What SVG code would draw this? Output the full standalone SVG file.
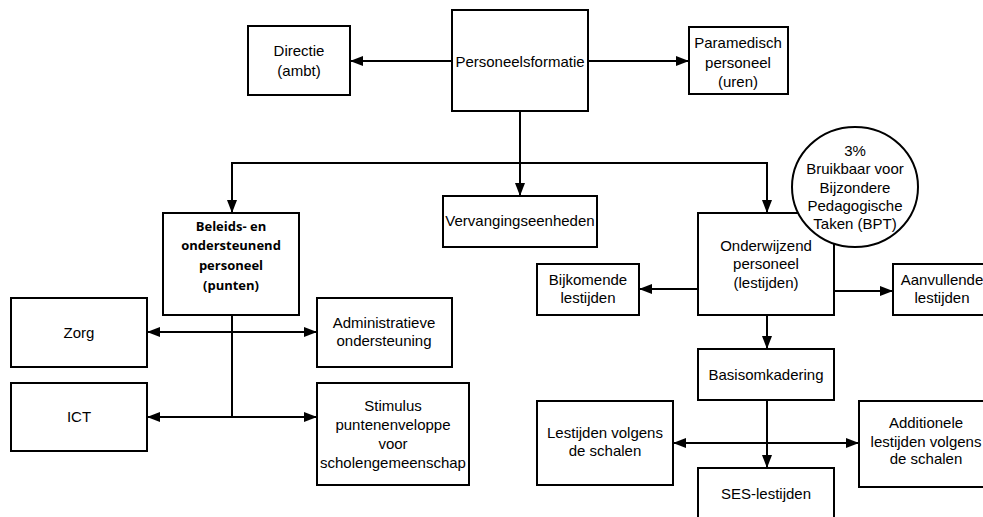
<svg xmlns="http://www.w3.org/2000/svg" width="983" height="517" viewBox="0 0 983 517">
<defs>
<marker id="arr" markerUnits="userSpaceOnUse" markerWidth="14" markerHeight="12" refX="13" refY="6" orient="auto-start-reverse">
<path d="M0,1 L13,6 L0,11 z" fill="#000"/>
</marker>
<style>
.box{fill:#fff;stroke:#000;stroke-width:2}
.t{font-family:"Liberation Sans",Arial,sans-serif;font-size:15px;fill:#000;text-anchor:middle;dominant-baseline:central}
.b{font-family:"Open Sans","Liberation Sans",sans-serif;font-size:13px;font-weight:bold;fill:#000;text-anchor:middle;dominant-baseline:central}
.c{fill:none;stroke:#000;stroke-width:2}
</style>
</defs>
<rect width="983" height="517" fill="#fff"/>
<g id="connectors">
<path class="c" d="M452,61 H350" marker-end="url(#arr)"/>
<path class="c" d="M588,61 H689" marker-end="url(#arr)"/>
<path class="c" d="M520,111 V163 H232 V213" marker-end="url(#arr)"/>
<path class="c" d="M520,163 V196" marker-end="url(#arr)"/>
<path class="c" d="M520,163 H767 V213" marker-end="url(#arr)"/>
<path class="c" d="M147,332 H317" marker-start="url(#arr)" marker-end="url(#arr)"/>
<path class="c" d="M232,315 V417"/>
<path class="c" d="M232,417 H147" marker-end="url(#arr)"/>
<path class="c" d="M232,417 H317" marker-end="url(#arr)"/>
<path class="c" d="M698,289 H639" marker-end="url(#arr)"/>
<path class="c" d="M834,291 H893" marker-end="url(#arr)"/>
<path class="c" d="M767,315 V349" marker-end="url(#arr)"/>
<path class="c" d="M673,443 H859" marker-start="url(#arr)" marker-end="url(#arr)"/>
<path class="c" d="M767,400 V468" marker-end="url(#arr)"/>
</g>
<g id="personeelsformatie"><rect class="box" x="452" y="10" width="136" height="101"/><text class="t" x="520" y="61">Personeelsformatie</text></g>
<g id="directie"><rect class="box" x="248" y="26" width="102" height="69"/><text class="t" x="299" y="50">Directie</text><text class="t" x="299" y="70">(ambt)</text></g>
<g id="paramedisch"><rect class="box" x="689" y="27" width="99" height="67"/><text class="t" x="738" y="42">Paramedisch</text><text class="t" x="738" y="62">personeel</text><text class="t" x="738" y="81">(uren)</text></g>
<g id="beleids"><rect class="box" x="163" y="213" width="136" height="102"/><text class="b" x="231" y="226">Beleids- en</text><text class="b" x="231" y="245">ondersteunend</text><text class="b" x="231" y="265">personeel</text><text class="b" x="231" y="285">(punten)</text></g>
<g id="vervanging"><rect class="box" x="443" y="196" width="154" height="51"/><text class="t" x="520" y="220">Vervangingseenheden</text></g>
<g id="onderwijzend"><rect class="box" x="698" y="213" width="136" height="102"/><text class="t" x="766" y="245">Onderwijzend</text><text class="t" x="766" y="263">personeel</text><text class="t" x="766" y="282">(lestijden)</text></g>
<g id="bpt"><ellipse class="box" cx="855" cy="187" rx="63" ry="60"/><text class="t" x="855" y="150">3%</text><text class="t" x="855" y="168">Bruikbaar voor</text><text class="t" x="855" y="187">Bijzondere</text><text class="t" x="855" y="205">Pedagogische</text><text class="t" x="855" y="223">Taken (BPT)</text></g>
<g id="zorg"><rect class="box" x="11" y="298" width="136" height="69"/><text class="t" x="79" y="332">Zorg</text></g>
<g id="administratieve"><rect class="box" x="317" y="298" width="135" height="69"/><text class="t" x="384" y="322">Administratieve</text><text class="t" x="384" y="340">ondersteuning</text></g>
<g id="ict"><rect class="box" x="11" y="383" width="136" height="68"/><text class="t" x="79" y="416">ICT</text></g>
<g id="stimulus"><rect class="box" x="317" y="383" width="152" height="102"/><text class="t" x="393" y="405">Stimulus</text><text class="t" x="393" y="424">puntenenveloppe</text><text class="t" x="393" y="443">voor</text><text class="t" x="393" y="462">scholengemeenschap</text></g>
<g id="bijkomende"><rect class="box" x="537" y="264" width="102" height="51"/><text class="t" x="588" y="279">Bijkomende</text><text class="t" x="588" y="297">lestijden</text></g>
<g id="aanvullende"><rect class="box" x="893" y="264" width="102" height="51"/><text class="t" x="942" y="279">Aanvullende</text><text class="t" x="942" y="297">lestijden</text></g>
<g id="basisomkadering"><rect class="box" x="698" y="349" width="136" height="51"/><text class="t" x="766" y="374">Basisomkadering</text></g>
<g id="lestijden"><rect class="box" x="537" y="401" width="136" height="84"/><text class="t" x="605" y="432">Lestijden volgens</text><text class="t" x="605" y="450">de schalen</text></g>
<g id="additionele"><rect class="box" x="859" y="401" width="136" height="86"/><text class="t" x="926" y="422">Additionele</text><text class="t" x="926" y="441">lestijden volgens</text><text class="t" x="926" y="458">de schalen</text></g>
<g id="ses"><rect class="box" x="698" y="468" width="136" height="60"/><text class="t" x="766" y="493">SES-lestijden</text></g>
</svg>
